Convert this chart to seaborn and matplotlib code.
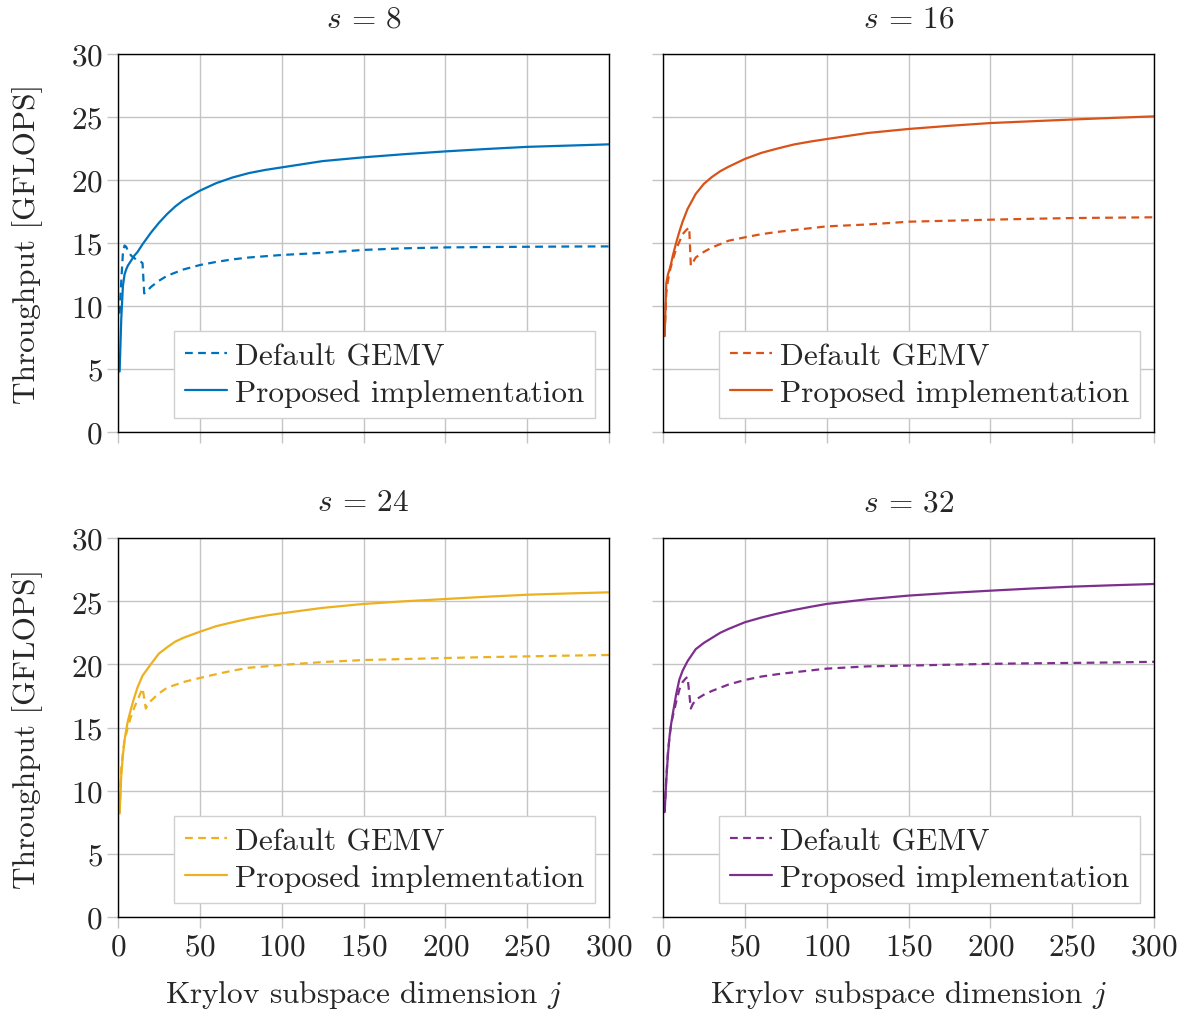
import pandas as pd
import matplotlib
matplotlib.use("Agg")
import matplotlib.pyplot as plt
import seaborn as sns

# block sizes shown in the four panels
s_values = [8, 16, 24, 32]
colors = ["#0072BD", "#D95319", "#EDB120", "#7E2F8E"]

# Krylov dimension samples
j_prop = [1, 2, 3, 4, 5, 6, 8, 10, 12, 15, 20, 25, 30, 35, 40, 50, 60, 70, 80, 90,
          100, 125, 150, 175, 200, 225, 250, 275, 300]

prop_8 = [4.8, 9.0, 11.6, 12.5, 12.9, 13.2, 13.6, 14.0, 14.3, 14.9, 15.8, 16.6, 17.3, 17.9, 18.4,
          19.15, 19.75, 20.2, 20.55, 20.8, 21.0, 21.5, 21.8, 22.05, 22.27, 22.46, 22.63, 22.73, 22.83]
prop_16 = [7.6, 11.8, 12.5, 12.9, 13.4, 14.0, 15.0, 15.9, 16.7, 17.7, 18.9, 19.7, 20.25, 20.7, 21.05,
           21.67, 22.15, 22.5, 22.82, 23.05, 23.25, 23.73, 24.05, 24.3, 24.52, 24.66, 24.8, 24.93, 25.05]
prop_24 = [8.2, 11.2, 12.8, 14.0, 14.8, 15.5, 16.5, 17.4, 18.2, 19.1, 20.0, 20.85, 21.35, 21.8, 22.1,
           22.58, 23.02, 23.33, 23.62, 23.85, 24.04, 24.47, 24.78, 24.99, 25.17, 25.35, 25.51, 25.61, 25.7]
prop_32 = [8.3, 10.8, 12.8, 14.3, 15.3, 16.1, 17.6, 18.8, 19.5, 20.25, 21.2, 21.7, 22.1, 22.5, 22.8,
           23.33, 23.7, 24.02, 24.3, 24.55, 24.78, 25.15, 25.44, 25.65, 25.83, 26.0, 26.15, 26.26, 26.36]

j_def_8 = [1, 2, 3, 4, 5, 6, 8, 10, 12, 14, 15, 16, 18, 20, 25, 30, 40, 50, 60, 70, 80,
           100, 125, 150, 175, 200, 225, 250, 275, 300]
def_8 = [9.4, 12.0, 14.2, 14.8, 14.7, 14.4, 14.0, 13.8, 13.6, 13.5, 13.4, 11.0, 11.2, 11.5, 12.0,
         12.4, 12.9, 13.25, 13.5, 13.7, 13.85, 14.05, 14.22, 14.45, 14.58, 14.65, 14.68, 14.7, 14.72, 14.73]

j_def_16 = [1, 2, 3, 4, 5, 6, 8, 10, 12, 14, 16, 17, 18, 20, 25, 30, 40, 50, 60, 70, 80,
            100, 125, 150, 175, 200, 225, 250, 275, 300]
def_16 = [7.6, 11.0, 12.0, 12.7, 13.2, 13.7, 14.5, 15.1, 15.7, 16.0, 16.24, 13.2, 13.4, 13.85, 14.3,
          14.65, 15.18, 15.45, 15.7, 15.88, 16.03, 16.32, 16.47, 16.69, 16.77, 16.85, 16.92, 16.98, 17.01, 17.04]

j_def_24 = [1, 2, 3, 4, 5, 6, 8, 10, 12, 14, 15, 17, 18, 20, 25, 30, 40, 50, 60, 70, 80,
            100, 125, 150, 175, 200, 225, 250, 275, 300]
def_24 = [8.2, 11.8, 13.0, 14.0, 14.5, 15.0, 15.9, 16.6, 17.2, 17.8, 18.1, 16.5, 16.8, 17.1, 17.7,
          18.15, 18.6, 18.92, 19.22, 19.5, 19.73, 19.95, 20.18, 20.34, 20.42, 20.5, 20.57, 20.63, 20.69, 20.74]

j_def_32 = [1, 2, 3, 4, 5, 6, 8, 10, 12, 14, 15, 17, 18, 20, 25, 30, 40, 50, 60, 70, 80,
            100, 125, 150, 175, 200, 225, 250, 275, 300]
def_32 = [8.3, 11.0, 13.0, 14.3, 15.3, 15.9, 17.0, 18.0, 18.6, 18.9, 19.0, 16.5, 16.8, 17.2, 17.6,
          17.9, 18.4, 18.76, 19.03, 19.22, 19.37, 19.66, 19.84, 19.9, 19.97, 20.04, 20.08, 20.11, 20.15, 20.2]

default_series = [(j_def_8, def_8), (j_def_16, def_16), (j_def_24, def_24), (j_def_32, def_32)]
proposed_series = [prop_8, prop_16, prop_24, prop_32]

# long table for seaborn
rows = []
for s, (jd, vd), vp in zip(s_values, default_series, proposed_series):
    for j, v in zip(jd, vd):
        rows.append({"s": s, "j": j, "gflops": v, "impl": "Default GEMV"})
    for j, v in zip(j_prop, vp):
        rows.append({"s": s, "j": j, "gflops": v, "impl": "Proposed implementation"})
df = pd.DataFrame(rows)

sns.set_theme(style="whitegrid")
fs = 22.5
plt.rcParams.update({
    "font.family": ["cmr10", "DejaVu Serif"],
    "mathtext.fontset": "cm",
    "axes.formatter.use_mathtext": True,
    "axes.unicode_minus": False,
    "font.size": fs,
    "axes.edgecolor": "black",
    "axes.linewidth": 1.0,
    "grid.color": "#c4c4c4",
    "grid.linewidth": 1.0,
})

fig = plt.figure(figsize=(11.81, 10.12), dpi=100)
W, H = 1181, 1012
boxes = [(118, 55, 609, 433), (663, 55, 1154, 433), (118, 539, 609, 918), (663, 539, 1154, 918)]

for i, (s, color) in enumerate(zip(s_values, colors)):
    x0, y0, x1, y1 = boxes[i]
    ax = fig.add_axes([x0 / W, 1 - y1 / H, (x1 - x0) / W, (y1 - y0) / H])
    sub = df[df["s"] == s]
    sns.lineplot(data=sub, x="j", y="gflops", style="impl",
                 dashes={"Default GEMV": (3.5, 2.4), "Proposed implementation": ""},
                 color=color, linewidth=1.6, estimator=None, sort=False, ax=ax)
    ax.set_xlim(0, 300)
    ax.set_ylim(0, 30)
    ax.set_xticks(range(0, 301, 50))
    ax.set_yticks(range(0, 31, 5))
    ax.tick_params(axis="both", which="major", direction="out", length=8, width=1.0,
                   color="#c4c4c4", labelsize=fs, pad=3, left=True, bottom=True)
    for sp in ax.spines.values():
        sp.set_color("black")
        sp.set_linewidth(1.0)
    ax.set_title(f"$s$ = {s}", fontsize=fs, pad=20)
    if i % 2 == 0:
        ax.set_ylabel("Throughput [GFLOPS]", fontsize=fs, labelpad=20)
    else:
        ax.set_ylabel("")
        ax.set_yticklabels([])
    if i >= 2:
        ax.set_xlabel("Krylov subspace dimension $j$", fontsize=fs, labelpad=13)
    else:
        ax.set_xlabel("")
        ax.set_xticklabels([])
    handles, labels = ax.get_legend_handles_labels()
    leg = ax.legend(handles, labels, loc="lower right", fontsize=fs, frameon=True,
                    fancybox=False, framealpha=1, edgecolor="#d0d0d0",
                    handlelength=1.35, handletextpad=0.25, borderpad=0.35,
                    labelspacing=0.28, borderaxespad=0.45)
    leg.get_frame().set_linewidth(1.0)

fig.savefig("out.png", dpi=100)
